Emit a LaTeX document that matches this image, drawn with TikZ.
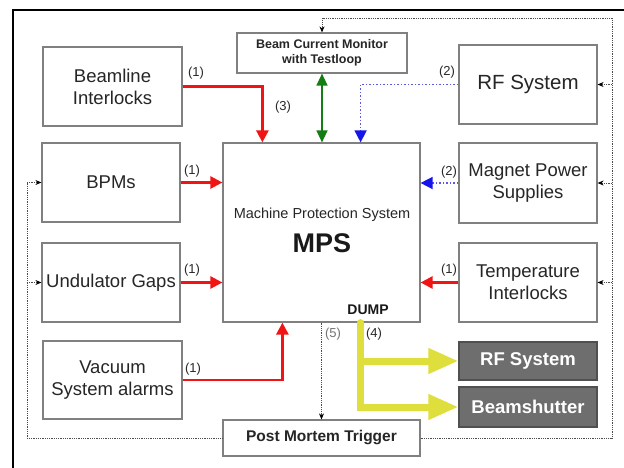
\documentclass[tikz,border=0pt]{standalone}
\usepackage{fontspec}
\setmainfont{Liberation Sans}
\usetikzlibrary{arrows.meta,calc}
\definecolor{boxgray}{RGB}{128,128,128}
\definecolor{darkfill}{RGB}{110,110,110}
\definecolor{darkedge}{RGB}{80,80,80}
\definecolor{myred}{RGB}{240,20,20}
\definecolor{mygreen}{RGB}{20,125,20}
\definecolor{myblue}{RGB}{20,20,235}
\definecolor{dotblue}{RGB}{90,90,225}
\definecolor{myyellow}{RGB}{222,222,60}
\definecolor{labelgray}{RGB}{40,40,40}
\tikzset{
  box/.style={draw=boxgray, line width=1.2pt, fill=white, inner sep=0pt, align=center,
    font=\fontsize{18.5}{22}\selectfont, text=black!85},
  darkbox/.style={draw=darkedge, line width=1.2pt, fill=darkfill, inner sep=0pt, align=center,
    font=\fontsize{18.5}{22}\selectfont\bfseries, text=white},
  redarrow/.style={draw=myred, line width=2.6pt, -{Triangle[length=12pt,width=12pt]}},
  bluearrow/.style={draw=dotblue, line width=1.5pt, dotted, -{Triangle[length=12pt,width=12pt,color=myblue,fill=myblue]}},
  greenarrow/.style={draw=mygreen, line width=1.4pt, {Triangle[length=12pt,width=11pt]}-{Triangle[length=12pt,width=11pt]}},
  yellowline/.style={draw=myyellow, line width=7pt},
  yellowarrow/.style={draw=myyellow, line width=7pt, -{Triangle[length=30pt,width=24pt]}},
  loopline/.style={draw=black!70, line width=0.8pt, densely dotted},
  looparrow/.style={draw=black!70, line width=0.8pt, densely dotted, -{Stealth[length=6pt,width=5pt,color=black,fill=black]}},
  numlabel/.style={font=\fontsize{13}{15}\selectfont, text=labelgray, inner sep=0pt}
}
\begin{document}
\begin{tikzpicture}[x=1pt,y=-1pt]
\useasboundingbox (0,0) rectangle (624,468);
\fill[white] (0,0) rectangle (624,468);
% outer frame
\draw[line width=2.5pt] (13,470) -- (13,10) -- (626,10);

% nodes
\node[box, minimum width=139pt, minimum height=79pt] (bl) at (112.5,86.5) {Beamline\\Interlocks};
\node[box, minimum width=170pt, minimum height=40pt, font=\fontsize{12.5}{14.5}\selectfont\bfseries] (bcm) at (322,53) {Beam Current Monitor\\with Testloop};
\node[box, minimum width=138pt, minimum height=79pt, font=\fontsize{20.5}{24}\selectfont] (rf) at (528,84.5) {RF System};
\node[box, minimum width=138pt, minimum height=79pt] (bpm) at (111,182.5) {BPMs};
\node[box, minimum width=197pt, minimum height=179pt] (mps) at (321.5,232.5) {};
\node[box, minimum width=138pt, minimum height=80pt] (mag) at (528,183) {Magnet Power\\Supplies};
\node[box, minimum width=138pt, minimum height=79pt] (und) at (111,282.5) {Undulator Gaps};
\node[box, minimum width=138pt, minimum height=79pt] (temp) at (528,282.5) {Temperature\\Interlocks};
\node[box, minimum width=139pt, minimum height=78pt] (vac) at (112.5,380) {Vacuum\\System alarms};
\node[box, minimum width=197pt, minimum height=36pt, font=\fontsize{15.5}{18}\selectfont\bfseries] (pm) at (321.5,438) {Post Mortem Trigger};
\node[darkbox, minimum width=138pt, minimum height=38pt] (rf2) at (528,361) {RF System};
\node[darkbox, minimum width=138pt, minimum height=40pt] (bs) at (528,407) {Beamshutter};

% MPS texts
\node[inner sep=0pt, font=\fontsize{14.5}{17}\selectfont, text=black!85] (mpst) at (322,215) {Machine Protection System};
\node[inner sep=0pt, font=\fontsize{27}{30}\selectfont\bfseries, text=black!90] (mpsb) at (322,243) {MPS};
\node[inner sep=0pt, font=\fontsize{14}{16}\selectfont\bfseries, text=black!90] (dump) at (368,310) {DUMP};

% dotted loop
\coordinate (lr) at (612,18);
\coordinate (ll) at (27,183);
\draw[looparrow] (pm.east) -| (lr) -| (bcm.north);
\draw[loopline] (pm.west) -| (ll);
\draw[looparrow] (rf.east -| lr) -- (rf.east);
\draw[looparrow] (mag.east -| lr) -- (mag.east);
\draw[looparrow] (temp.east -| lr) -- (temp.east);
\draw[looparrow] (bpm.west -| ll) -- (bpm.west);
\draw[looparrow] (und.west -| ll) -- (und.west);
\draw[looparrow] (mps.south) -- (mps.south |- pm.north);

% red arrows
\draw[redarrow] (bl.east) -| ([xshift=40pt]mps.north west);
\draw[redarrow] (bpm.east) -- (bpm.east -| mps.west);
\draw[redarrow] (und.east) -- (und.east -| mps.west);
\draw[redarrow] (vac.east) -| ([xshift=60pt]mps.south west);
\draw[redarrow] (temp.west) -- (temp.west -| mps.east);

% blue arrows
\draw[bluearrow] (mag.west) -- (mag.west -| mps.east);
\draw[bluearrow] (rf.west) -| ([xshift=-60pt]mps.north east);

% green
\draw[greenarrow] (bcm.south) -- (bcm.south |- mps.north);

% yellow
\coordinate (ys) at ([xshift=-60pt]mps.south east);
\draw[yellowline, line cap=round] (ys) |- ([xshift=-30pt]bs.west);
\draw[yellowarrow] (ys |- bs.west) -- (bs.west);
\draw[yellowarrow] (ys |- rf2.west) -- (rf2.west);

% labels
\node[numlabel] (l1) at (196,73) {(1)};
\node[numlabel] (l2) at (192,171) {(1)};
\node[numlabel] (l3) at (192,270) {(1)};
\node[numlabel] (l4) at (193,369) {(1)};
\node[numlabel] (l5) at (449,270) {(1)};
\node[numlabel] (l6) at (449,172) {(2)};
\node[numlabel] (l7) at (447,72) {(2)};
\node[numlabel] (l8) at (283,107) {(3)};
\node[numlabel] (l9) at (374,334) {(4)};
\node[numlabel, text=black!55] (l10) at (333,334) {(5)};
\end{tikzpicture}
\end{document}
